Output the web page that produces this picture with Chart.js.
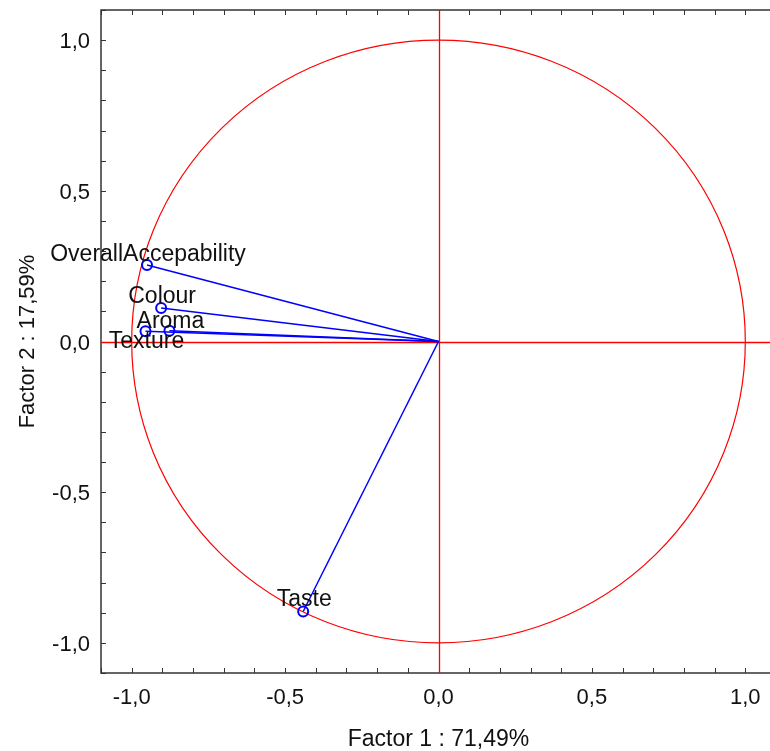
<!DOCTYPE html>
<html>
<head>
    <title>Factor loadings</title>
    <style>
        body { margin: 0; background: #fff; overflow: hidden; }
        #wrap { width: 770px; height: 751px; overflow: hidden; }
    </style>
</head>
<body>
    <div id="wrap">
        <canvas id="loadings" width="783" height="751"></canvas>
    </div>

    <script src="https://cdn.jsdelivr.net/npm/chart.js"></script>
    <script>
        // Data
        const variables = ['OverallAccepability', 'Colour', 'Aroma', 'Texture', 'Taste'];
        const factor1 = [-0.950, -0.904, -0.877, -0.955, -0.441];
        const factor2 = [0.254, 0.111, 0.036, 0.034, -0.896];
        const axisTicks = [-1.0, -0.5, 0.0, 0.5, 1.0];
        const xTitle = 'Factor 1 : 71,49%';
        const yTitle = 'Factor 2 : 17,59%';

        const FONT = 'Liberation Sans, Arial, sans-serif';
        const fmt = v => Number(v).toFixed(1).replace('.', ',');

        // Frame, inward ticks, unit circle and red zero axes
        const framePlugin = {
            id: 'frame',
            beforeDatasetsDraw(chart) {
                const { ctx, chartArea: a, scales: { x, y } } = chart;
                ctx.save();

                // frame
                ctx.strokeStyle = '#333';
                ctx.lineWidth = 1.5;
                ctx.strokeRect(a.left, a.top, a.right - a.left, a.bottom - a.top);

                // inward ticks every 0.1
                ctx.lineWidth = 1;
                ctx.beginPath();
                for (let i = -11; i <= 11; i++) {
                    const v = i / 10;
                    const px = Math.round(x.getPixelForValue(v)) + 0.5;
                    const py = Math.round(y.getPixelForValue(v)) + 0.5;
                    ctx.moveTo(px, a.bottom); ctx.lineTo(px, a.bottom - 5);
                    ctx.moveTo(px, a.top); ctx.lineTo(px, a.top + 5);
                    ctx.moveTo(a.left, py); ctx.lineTo(a.left + 5, py);
                    ctx.moveTo(a.right, py); ctx.lineTo(a.right - 5, py);
                }
                ctx.stroke();

                // unit circle
                const cx = x.getPixelForValue(0), cy = y.getPixelForValue(0);
                ctx.strokeStyle = '#ff0000';
                ctx.lineWidth = 1.2;
                ctx.beginPath();
                ctx.ellipse(cx, cy, x.getPixelForValue(1) - cx, cy - y.getPixelForValue(1), 0, 0, Math.PI * 2);
                ctx.stroke();

                // zero axes
                const zx = Math.round(cx) + 0.5, zy = Math.round(cy) + 0.5;
                ctx.lineWidth = 1.3;
                ctx.beginPath();
                ctx.moveTo(zx, a.top); ctx.lineTo(zx, a.bottom);
                ctx.moveTo(a.left, zy); ctx.lineTo(a.right, zy);
                ctx.stroke();
                ctx.restore();
            },
            afterDatasetsDraw(chart, args, opts) {
                const { ctx } = chart;
                ctx.save();
                ctx.font = '23px ' + FONT;
                ctx.fillStyle = '#111';
                ctx.textAlign = 'center';
                ctx.textBaseline = 'middle';
                chart.data.datasets.forEach((ds, i) => {
                    const pt = chart.getDatasetMeta(i).data[1];
                    ctx.fillText(ds.label, pt.x + 1, pt.y + opts.shiftY[i]);
                });
                ctx.restore();
            }
        };

        const datasets = variables.map((name, i) => ({
            label: name,
            data: [{ x: 0, y: 0 }, { x: factor1[i], y: factor2[i] }],
            showLine: true,
            borderColor: '#0000ff',
            borderWidth: 1.5,
            pointRadius: c => c.dataIndex === 0 ? 0 : 5,
            pointBorderWidth: 2,
            pointBorderColor: '#0000ff',
            pointBackgroundColor: 'rgba(0,0,0,0)'
        }));

        const tickFont = { family: FONT, size: 22 };
        const noPad = s => { s.paddingTop = 0; s.paddingBottom = 0; s.paddingLeft = 0; s.paddingRight = 0; };

        new Chart(document.getElementById('loadings'), {
            type: 'scatter',
            data: { datasets },
            plugins: [framePlugin],
            options: {
                responsive: false,
                animation: false,
                layout: { padding: { top: 10, right: 1, left: 0, bottom: 0 } },
                plugins: {
                    legend: { display: false },
                    tooltip: { enabled: false },
                    frame: { shiftY: [-10, -11, -9, 10, -12] }
                },
                scales: {
                    x: {
                        type: 'linear',
                        min: -1.1, max: 1.1,
                        afterBuildTicks: s => { s.ticks = axisTicks.map(v => ({ value: v })); },
                        afterFit: s => { s.height = 78; noPad(s); },
                        grid: { display: false, drawTicks: false },
                        border: { display: false },
                        ticks: { font: tickFont, color: '#111', padding: 12, maxRotation: 0, callback: fmt },
                        title: { display: true, text: xTitle, font: { family: FONT, size: 23 }, color: '#111', padding: { top: 0, bottom: -2 } }
                    },
                    y: {
                        type: 'linear',
                        min: -1.1, max: 1.1,
                        afterBuildTicks: s => { s.ticks = axisTicks.map(v => ({ value: v })); },
                        afterFit: s => { s.width = 101; noPad(s); },
                        grid: { display: false, drawTicks: false },
                        border: { display: false },
                        ticks: { font: tickFont, color: '#111', padding: 11, labelOffset: 2, callback: fmt },
                        title: { display: true, text: yTitle, font: tickFont, color: '#111', padding: { top: 15, bottom: 0 } }
                    }
                }
            }
        });
    </script>
</body>
</html>
